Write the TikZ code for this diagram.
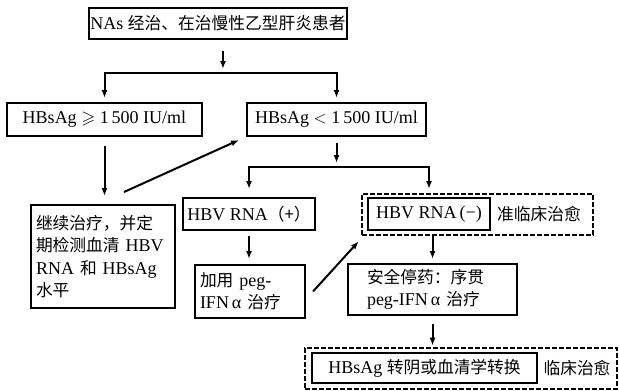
\documentclass[tikz,border=0pt]{standalone}
\usepackage{amssymb}
\usepackage{fontspec}
\setmainfont{Liberation Serif}
\newfontfamily\cjk[Scale=0.93]{Noto Sans CJK SC}
\usetikzlibrary{arrows.meta,calc}
\begin{document}
\begin{tikzpicture}[x=1pt,y=-1pt,
  every node/.style={font=\fontsize{18}{22.5}\selectfont},
  box/.style={draw, line width=2pt, inner sep=0pt, align=center},
  dbox/.style={draw, line width=2.6pt, dash pattern=on 5pt off 2pt, inner sep=0pt},
  arr/.style={line width=2pt, -{Latex[length=8pt,width=6pt]}}]
\useasboundingbox (0,0) rectangle (619,391);

% dashed outer frames
\node[dbox, minimum width=231pt, minimum height=41pt] (negout) at (477.5,214.5) {};
\node[dbox, minimum width=312pt, minimum height=41pt] (finout) at (461,368.5) {};

% boxes
\node[box, minimum width=258pt, minimum height=31pt] (top) at (218,23.5) {NAs {\cjk 经治、在治慢性乙型肝炎患者}};
\node[box, minimum width=195pt, minimum height=33pt] (L1) at (104.5,119.5) {HBsAg $\geqslant$ 1\,500 IU/ml};
\node[box, minimum width=179pt, minimum height=33pt] (R1) at (336.5,119.5) {HBsAg $<$ 1\,500 IU/ml};
\node[box, align=left, text width=134pt, inner xsep=5pt, minimum height=103pt] (cont) at (103,256.5)
  {{\cjk 继续治疗，并定}\\{\cjk 期检测血清} HBV\\RNA {\cjk 和} HBsAg\\{\cjk 水平}};
\node[box, minimum width=132pt, minimum height=32pt] (pos) at (249,214) {HBV RNA{\cjk （+）}};
\node[box, minimum width=122pt, minimum height=32pt] (neg) at (429,214) {HBV RNA\,(−)};
\node (negl) at (539,214) {\cjk 准临床治愈};
\node[box, align=left, text width=100pt, inner xsep=5pt, minimum height=53pt] (peg) at (250,291.5)
  {{\cjk 加用} peg-\\IFN\,α {\cjk 治疗}};
\node[box, align=left, text width=131pt, inner xsep=19pt, minimum height=51pt] (stop) at (432.5,289.5)
  {{\cjk 安全停药：序贯}\\peg-IFN\,α {\cjk 治疗}};
\node[box, minimum width=225pt, minimum height=30pt] (fin) at (424.5,368) {HBsAg {\cjk 转阴或血清学转换}};
\node (finl) at (577,368) {\cjk 临床治愈};

% connectors
\coordinate (s1) at (223,73);
\draw[arr, shorten <=11pt, shorten >=4pt] (top.south -| s1) -- (s1);
\draw[arr, shorten >=4pt] (s1) -| (L1.north);
\draw[arr, shorten >=4pt] (s1) -| (R1.north);

\draw[arr, shorten <=9pt, shorten >=8pt] (L1.south) -- (L1.south |- cont.north);
\draw[arr] ($(cont.north east)+(-52,-12)$) -- ($(R1.south west)+(-7,3)$);

\coordinate (s2) at (336.5,167);
\draw[arr, shorten <=6pt, shorten >=4pt] (R1.south) -- (s2);
\draw[arr, shorten >=8pt] (s2) -| (pos.north);
\draw[arr, shorten >=8pt] (s2) -| (neg.north);

\draw[arr, shorten <=5pt, shorten >=5pt] (pos.south) -- (pos.south |- peg.north);
\draw[arr] ($(peg.east)+(7,0)$) -- ($(negout.south west)+(-2,5)$);
\draw[arr, shorten >=4pt] (stop.north |- negout.south) -- (stop.north);
\draw[arr, shorten <=8pt, shorten >=1pt] (stop.south) -- (stop.south |- finout.north);
\end{tikzpicture}
\end{document}
